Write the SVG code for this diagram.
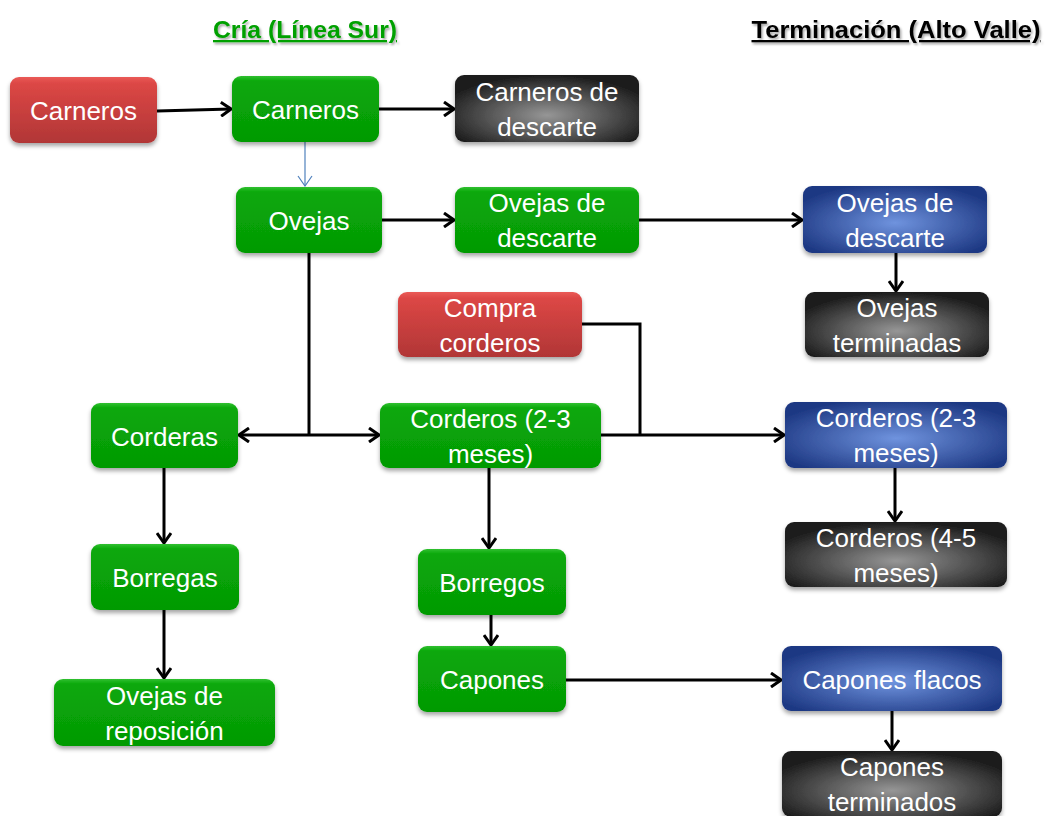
<svg xmlns="http://www.w3.org/2000/svg" width="1045" height="816" viewBox="0 0 1045 816">
<style>
.box{stroke:none;filter:url(#sh)}
.g{fill:url(#gGreen)}
.r{fill:url(#gRed)}
.k{fill:url(#gBlack)}
.b{fill:url(#gBlue)}
.t{font-family:"Liberation Sans",Arial,sans-serif;font-size:26px;fill:#ffffff;text-anchor:middle}
.c{fill:none;stroke:#000;stroke-width:3}
.hd{font-family:"Liberation Sans",Arial,sans-serif;font-weight:bold;font-size:23px;text-anchor:middle;text-decoration:underline}
</style>
<defs>
<filter id="sh" x="-10%" y="-10%" width="120%" height="130%">
<feDropShadow dx="0" dy="3" stdDeviation="2" flood-color="#000" flood-opacity="0.35"/>
</filter>
<filter id="tsh" x="-5%" y="-20%" width="110%" height="150%">
<feDropShadow dx="1.5" dy="2" stdDeviation="1" flood-color="#000" flood-opacity="0.35"/>
</filter>
<linearGradient id="gGreen" x1="0" y1="0" x2="0" y2="1">
<stop offset="0" stop-color="#30c030"/>
<stop offset="0.08" stop-color="#0aa80a"/>
<stop offset="1" stop-color="#049a04"/>
</linearGradient>
<linearGradient id="gRed" x1="0" y1="0" x2="0" y2="1">
<stop offset="0" stop-color="#ea5a56"/>
<stop offset="0.1" stop-color="#dc4745"/>
<stop offset="1" stop-color="#b13636"/>
</linearGradient>
<radialGradient id="gBlack" cx="0.5" cy="0.6" r="0.6">
<stop offset="0" stop-color="#969696"/>
<stop offset="1" stop-color="#1c1c1c"/>
</radialGradient>
<radialGradient id="gBlue" cx="0.5" cy="0.55" r="0.6">
<stop offset="0" stop-color="#6f93de"/>
<stop offset="1" stop-color="#1d3883"/>
</radialGradient>
<marker id="ah" markerUnits="userSpaceOnUse" viewBox="0 0 12 16" refX="11" refY="8" markerWidth="12" markerHeight="16" orient="auto-start-reverse">
<path d="M1,1 L11,8 L1,15" fill="none" stroke="#000" stroke-width="3"/>
</marker>
<marker id="ahb" markerUnits="userSpaceOnUse" viewBox="0 0 12 16" refX="11" refY="8" markerWidth="12" markerHeight="16" orient="auto">
<path d="M1,1 L11,8 L1,15" fill="none" stroke="#4f81bd" stroke-width="1.2"/>
</marker>
</defs>
<rect width="1045" height="816" fill="#ffffff"/>

<g id="headers">
<text class="hd" x="305" y="38" fill="#00a000" filter="url(#tsh)" textLength="184" lengthAdjust="spacingAndGlyphs">Cría (Línea Sur)</text>
<text class="hd" x="896" y="38" fill="#000" filter="url(#tsh)" textLength="289" lengthAdjust="spacingAndGlyphs">Terminación (Alto Valle)</text>
</g>

<g id="connectors">
<path class="c" d="M157,111 L231,109" marker-end="url(#ah)"/>
<path class="c" d="M379,109 L454,109" marker-end="url(#ah)"/>
<path d="M305,142 L305,186" fill="none" stroke="#4f81bd" stroke-width="1.2" marker-end="url(#ahb)"/>
<path class="c" d="M382,220 L454,220" marker-end="url(#ah)"/>
<path class="c" d="M639,220 L802,220" marker-end="url(#ah)"/>
<path class="c" d="M896,253 L896,291" marker-end="url(#ah)"/>
<path class="c" d="M309,253 L309,435"/>
<path class="c" d="M239,435 L379,435" marker-start="url(#ah)" marker-end="url(#ah)"/>
<path class="c" d="M582,324 L640,324 L640,435"/>
<path class="c" d="M601,435 L784,435" marker-end="url(#ah)"/>
<path class="c" d="M895,468 L895,521" marker-end="url(#ah)"/>
<path class="c" d="M164,468 L164,543" marker-end="url(#ah)"/>
<path class="c" d="M164,610 L164,678" marker-end="url(#ah)"/>
<path class="c" d="M489,468 L489,548" marker-end="url(#ah)"/>
<path class="c" d="M491,615 L491,645" marker-end="url(#ah)"/>
<path class="c" d="M566,680 L781,680" marker-end="url(#ah)"/>
<path class="c" d="M892,711 L892,750" marker-end="url(#ah)"/>
</g>

<g id="n-carneros-compra">
<rect class="box r" x="10" y="77" width="147" height="66" rx="9"/>
<text class="t" x="83.5" y="120">Carneros</text>
</g>
<g id="n-carneros">
<rect class="box g" x="232" y="76" width="147" height="66" rx="9"/>
<text class="t" x="305.5" y="119">Carneros</text>
</g>
<g id="n-carneros-descarte">
<rect class="box k" x="455" y="75" width="184" height="67" rx="9"/>
<text class="t" x="547" y="100.5">Carneros de</text>
<text class="t" x="547" y="135.5">descarte</text>
</g>
<g id="n-ovejas">
<rect class="box g" x="236" y="187" width="146" height="66" rx="9"/>
<text class="t" x="309" y="230">Ovejas</text>
</g>
<g id="n-ovejas-descarte-cria">
<rect class="box g" x="455" y="187" width="184" height="66" rx="9"/>
<text class="t" x="547" y="212">Ovejas de</text>
<text class="t" x="547" y="247">descarte</text>
</g>
<g id="n-ovejas-descarte-term">
<rect class="box b" x="803" y="186" width="184" height="67" rx="9"/>
<text class="t" x="895" y="211.5">Ovejas de</text>
<text class="t" x="895" y="246.5">descarte</text>
</g>
<g id="n-ovejas-terminadas">
<rect class="box k" x="805" y="292" width="184" height="65" rx="9"/>
<text class="t" x="897" y="316.5">Ovejas</text>
<text class="t" x="897" y="351.5">terminadas</text>
</g>
<g id="n-compra-corderos">
<rect class="box r" x="398" y="292" width="184" height="65" rx="9"/>
<text class="t" x="490" y="316.5">Compra</text>
<text class="t" x="490" y="351.5">corderos</text>
</g>
<g id="n-corderas">
<rect class="box g" x="91" y="403" width="147" height="65" rx="9"/>
<text class="t" x="164.5" y="445.5">Corderas</text>
</g>
<g id="n-corderos-cria">
<rect class="box g" x="380" y="403" width="221" height="65" rx="9"/>
<text class="t" x="490.5" y="427.5">Corderos (2-3</text>
<text class="t" x="490.5" y="462.5">meses)</text>
</g>
<g id="n-corderos-term">
<rect class="box b" x="785" y="402" width="222" height="66" rx="9"/>
<text class="t" x="896" y="427">Corderos (2-3</text>
<text class="t" x="896" y="462">meses)</text>
</g>
<g id="n-corderos-45">
<rect class="box k" x="785" y="522" width="222" height="65" rx="9"/>
<text class="t" x="896" y="546.5">Corderos (4-5</text>
<text class="t" x="896" y="581.5">meses)</text>
</g>
<g id="n-borregas">
<rect class="box g" x="91" y="544" width="148" height="66" rx="9"/>
<text class="t" x="165" y="587">Borregas</text>
</g>
<g id="n-ovejas-reposicion">
<rect class="box g" x="54" y="679" width="221" height="67" rx="9"/>
<text class="t" x="164.5" y="704.5">Ovejas de</text>
<text class="t" x="164.5" y="739.5">reposición</text>
</g>
<g id="n-borregos">
<rect class="box g" x="418" y="549" width="148" height="66" rx="9"/>
<text class="t" x="492" y="592">Borregos</text>
</g>
<g id="n-capones">
<rect class="box g" x="418" y="646" width="148" height="66" rx="9"/>
<text class="t" x="492" y="689">Capones</text>
</g>
<g id="n-capones-flacos">
<rect class="box b" x="782" y="646" width="220" height="65" rx="9"/>
<text class="t" x="892" y="688.5">Capones flacos</text>
</g>
<g id="n-capones-terminados">
<rect class="box k" x="782" y="751" width="220" height="66" rx="9"/>
<text class="t" x="892" y="776">Capones</text>
<text class="t" x="892" y="811">terminados</text>
</g>
</svg>
